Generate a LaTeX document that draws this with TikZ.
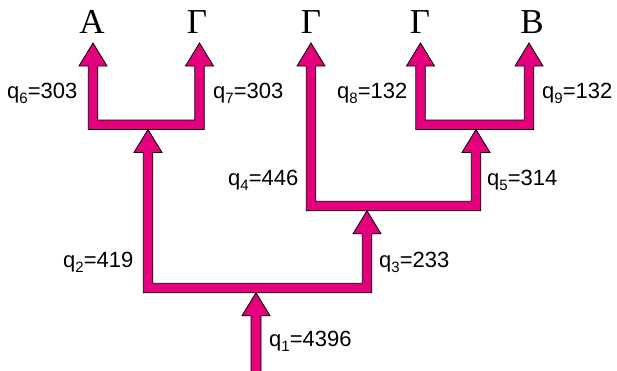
\documentclass[tikz,border=0pt]{standalone}
\usepackage{fontspec}
\newfontfamily\labfont{Liberation Sans}
\newfontfamily\letfont{Liberation Serif}
\definecolor{pipecol}{RGB}{228,0,124}
\newcommand\qlab[2]{q\raisebox{-5pt}{\fontsize{15}{15}\selectfont #1}=#2}
% U-shaped pipe: left x, right x, crossbar centre y, left tip y, right tip y
\newcommand\drawU[5]{%
 \filldraw[pipe] (#1,#4) -- ({#1+14},{#4+23}) -- ({#1+4.75},{#4+23}) -- ({#1+4.75},{#3-4.75})
  -- ({#2-4.75},{#3-4.75}) -- ({#2-4.75},{#5+23}) -- ({#2-14},{#5+23}) -- (#2,#5)
  -- ({#2+14},{#5+23}) -- ({#2+4.75},{#5+23}) -- ({#2+4.75},{#3+4.75})
  -- ({#1-4.75},{#3+4.75}) -- ({#1-4.75},{#4+23}) -- ({#1-14},{#4+23}) -- cycle;}
\tikzset{
 pipe/.style={fill=pipecol,draw=black,line width=0.8pt,line join=miter},
 letter/.style={font=\letfont\fontsize{35}{35}\selectfont,inner sep=0pt,anchor=base},
 flow/.style={font=\labfont\fontsize{22}{22}\selectfont,inner sep=0pt,anchor=base west},
}
\begin{document}
\begin{tikzpicture}[x=1pt,y=-1pt]
\useasboundingbox (0,0) rectangle (617,370);
% pipes
\drawU{93}{199.5}{124.75}{43}{43}
\drawU{420.5}{529}{124.75}{43}{43}
\drawU{311}{476}{206}{43}{129.5}
\drawU{148}{367}{288}{129.5}{210.75}
% inlet stem
\filldraw[pipe] (256,292.75) coordinate (stemtip) -- (270,315.75) -- (261,315.75) -- (261,372) -- (251,372) -- (251,315.75) -- (242,315.75) -- cycle;
% end letters
\node[letter] (a) at (92,33) {А};
\node[letter] (g1) at (197,33) {Г};
\node[letter] (g2) at (311,33) {Г};
\node[letter] (g3) at (420,33) {Г};
\node[letter] (b) at (532,33) {В};
% flow labels
\node[flow] (q6) at (7,98) {\qlab{6}{303}};
\node[flow] (q7) at (213,98) {\qlab{7}{303}};
\node[flow] (q8) at (337,98) {\qlab{8}{132}};
\node[flow] (q9) at (542,98) {\qlab{9}{132}};
\node[flow] (q4) at (228,185) {\qlab{4}{446}};
\node[flow] (q5) at (487,185) {\qlab{5}{314}};
\node[flow] (q2) at (63,267.5) {\qlab{2}{419}};
\node[flow] (q3) at (379,267.5) {\qlab{3}{233}};
\node[flow] (q1) at (269,346.5) {\qlab{1}{4396}};
\end{tikzpicture}
\end{document}
